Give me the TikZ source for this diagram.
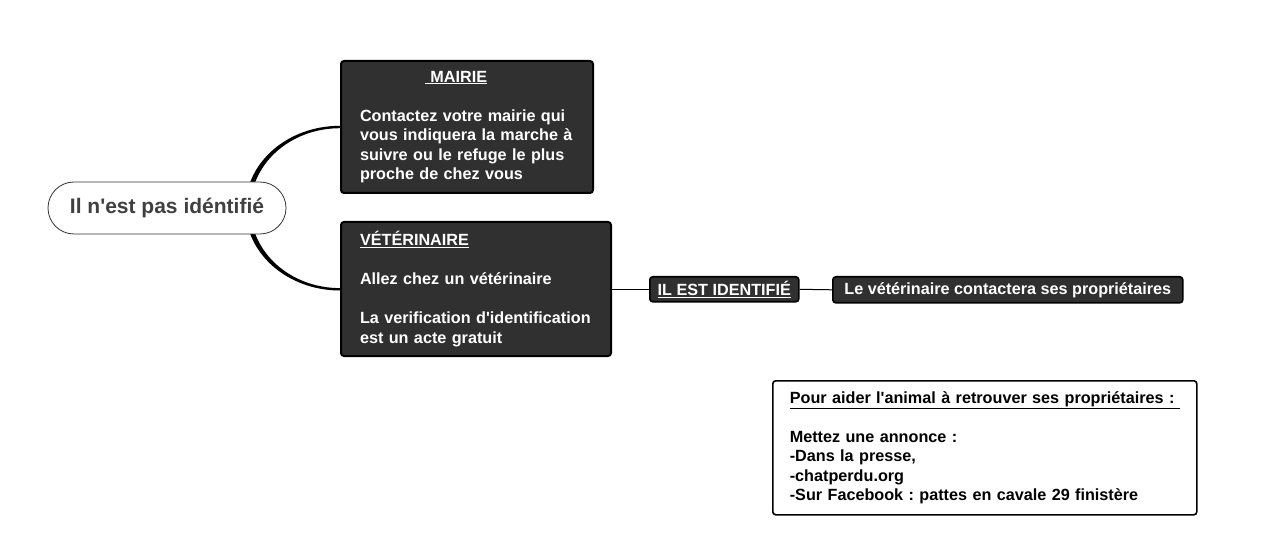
\documentclass[tikz,border=0pt]{standalone}
\usepackage{fontspec}
\setmainfont{Liberation Sans}
\usetikzlibrary{shapes.misc}
\pgfdeclarelayer{background}
\pgfsetlayers{background,main}
\definecolor{darkbox}{HTML}{303030}
\definecolor{maintext}{HTML}{404040}
\frenchspacing
\tikzset{
  txt/.style={font=\fontsize{16.2}{19.5}\selectfont\bfseries},
  darkbox/.style={txt, draw=black, line width=2pt, fill=darkbox, rounded corners=3pt, text=white, align=left, inner ysep=0pt, inner xsep=19pt, anchor=north west},
  smallbox/.style={txt, draw=black, line width=1.6pt, fill=darkbox, rounded corners=3pt, text=white, inner sep=0pt, anchor=north west},
  whitebox/.style={txt, draw=black, line width=1.6pt, fill=white, rounded corners=3pt, text=black, align=left, inner ysep=0pt, inner xsep=17pt, anchor=north west},
  rootnode/.style={rounded rectangle, draw=black!80, line width=0.8pt, fill=white, text=maintext, font=\fontsize{21}{25}\selectfont\bfseries, minimum width=238pt, minimum height=52pt, inner sep=0pt},
  thinlink/.style={draw=black, line width=1pt},
  branch/.style={fill=black}
}
\begin{document}
\begin{tikzpicture}[x=1pt,y=-1pt]
\useasboundingbox (0,0) rectangle (1288,545);

\node[rootnode] (root) at (167,208) {Il n\textquotesingle est pas idéntifié};

\node[darkbox, text width=214pt, minimum height=132pt] (mairie) at (340,60)
 {\hspace*{65pt}\underline{\ MAIRIE}\\[19.5pt]
  \mbox{Contactez votre mairie qui}\\
  \mbox{vous indiquera la marche à}\\
  \mbox{suivre ou le refuge le plus}\\
  \mbox{proche de chez vous}};

\node[darkbox, text width=232pt, minimum height=134pt] (veto) at (340,221)
 {\underline{VÉTÉRINAIRE}\\[19.5pt]
  \mbox{Allez chez un vétérinaire}\\[19.5pt]
  \mbox{La verification d\textquotesingle identification}\\
  \mbox{est un acte gratuit}};

\node[smallbox, minimum width=149pt, minimum height=25pt] (ident) at (649,276)
 {\underline{IL EST IDENTIFIÉ}};

\node[smallbox, minimum width=350pt, minimum height=26pt] (contact) at (832,276)
 {Le vétérinaire contactera ses propriétaires};

\node[whitebox, text width=390pt, minimum height=134pt] (aide) at (772,380)
 {\mbox{\underline{Pour aider l\textquotesingle animal à retrouver ses propriétaires :\ }}\\[19.5pt]
  Mettez une annonce :\\
  -Dans la presse,\\
  -chatperdu.org\\
  \mbox{-Sur Facebook : pattes en cavale 29 finistère}};

\draw[thinlink] (veto.east |- ident.west) -- (ident.west);
\draw[thinlink] (ident.east) -- (contact.west);

\begin{pgfonlayer}{background}
\coordinate (s) at ([xshift=81pt]root.center);
\coordinate (m) at (mairie.west);
\coordinate (v) at (veto.west |- ident.west);
\path[branch] ([xshift=-2.5pt]s) .. controls ([xshift=-2.5pt,yshift=46pt]s) and ([xshift=-52pt,yshift=1.2pt]m) .. ([yshift=1.2pt]m)
  -- ([yshift=-1.2pt]m) .. controls ([xshift=-50pt,yshift=-1.2pt]m) and ([xshift=2.5pt,yshift=44pt]s) .. ([xshift=2.5pt]s) -- cycle;
\path[branch] ([xshift=-2.5pt]s) .. controls ([xshift=-2.5pt,yshift=-46pt]s) and ([xshift=-52pt,yshift=-1.2pt]v) .. ([yshift=-1.2pt]v)
  -- ([yshift=1.2pt]v) .. controls ([xshift=-50pt,yshift=1.2pt]v) and ([xshift=2.5pt,yshift=-44pt]s) .. ([xshift=2.5pt]s) -- cycle;
\end{pgfonlayer}
\end{tikzpicture}
\end{document}
